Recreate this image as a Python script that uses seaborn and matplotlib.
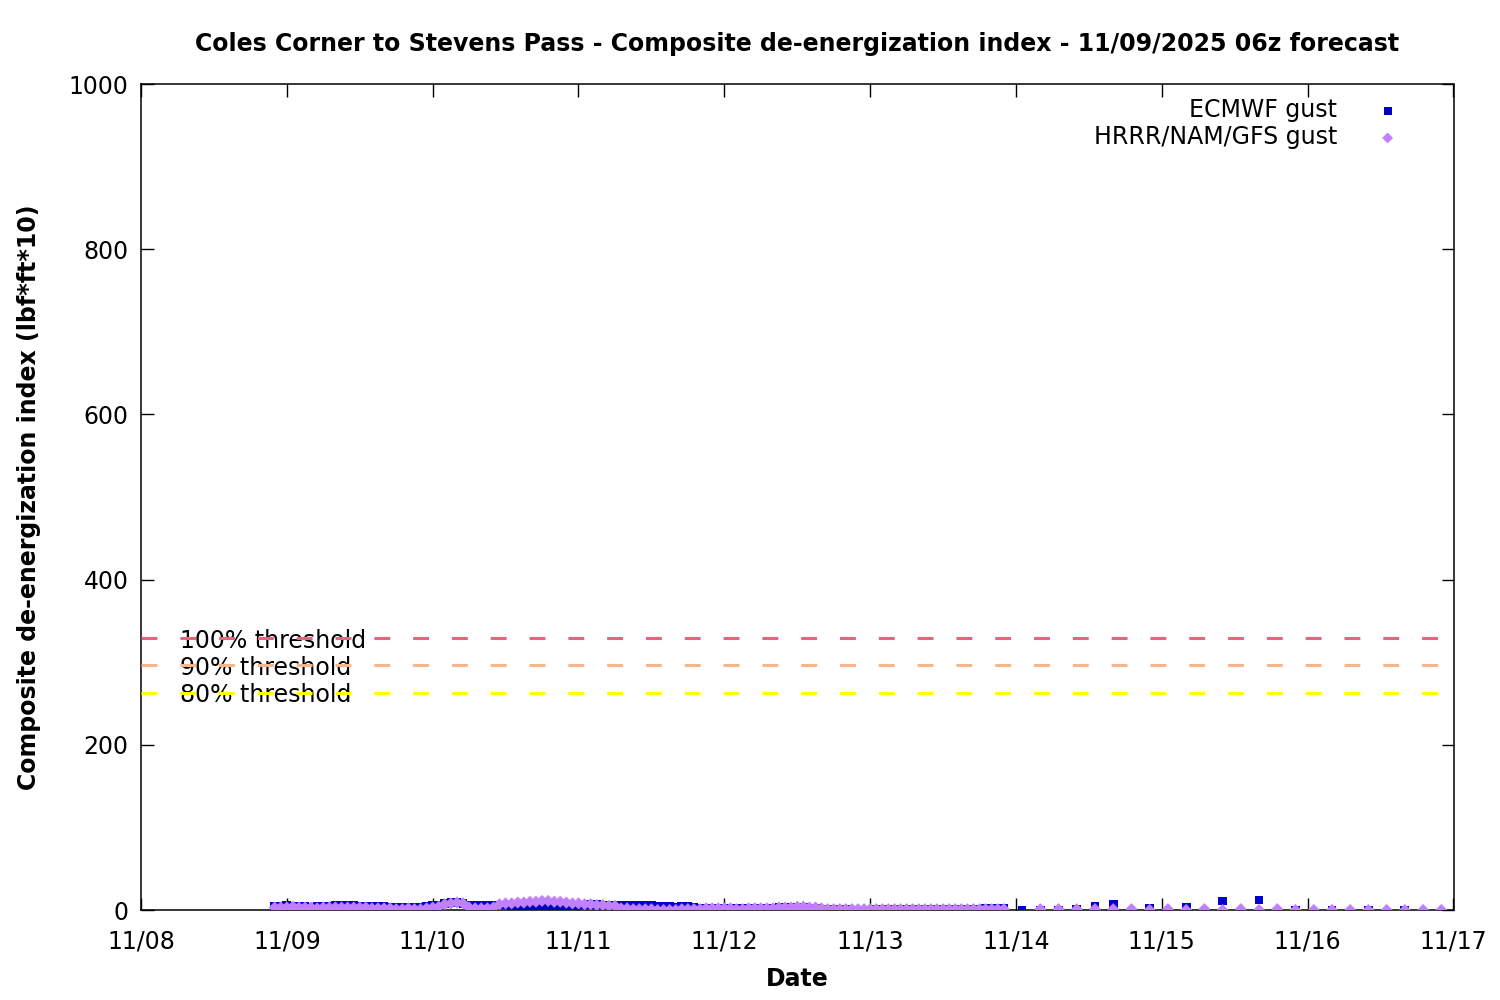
import numpy as np
import pandas as pd
import matplotlib
matplotlib.use("Agg")
import matplotlib.pyplot as plt
import matplotlib.dates as mdates
import seaborn as sns

# hourly part of the forecast (11/08 22:00 -> 11/13 22:00)
hourly_start = "2025-11-08 22:00"
ecmwf_hourly = [4, 4, 5, 4, 4, 4, 3, 4, 4, 4, 5, 5, 5,
                5, 4, 4, 4, 4, 4,
                3, 3, 3, 3, 3, 3, 4,
                5, 6,
                8, 9, 9, 8,
                6, 5, 5, 5, 6,
                6, 6, 5, 5, 5, 5, 4, 4, 4, 5, 5, 5, 5, 6,
                6, 7, 7, 6, 6, 6,
                5, 5, 5, 5, 5, 5,
                4, 4, 4, 3, 4, 4, 3,
                2, 2, 2, 2, 2, 2, 2, 2, 2, 2, 2, 2, 2, 3, 3, 3,
                3, 3, 2, 2, 1,
                1, 1, 1, 1, 0, 0, 0, 0, 1, 1, 1, 1, 1, 1, 1, 1, 1, 1, 1, 1,
                1, 1, 1, 1, 1, 1, 2, 2, 2, 2]
hrrr_hourly = [3, 3, 3, 4, 3, 3, 3, 2, 3, 3, 3, 3, 3,
               3, 3, 3, 2, 2, 2,
               2, 1, 1, 2, 1, 1, 2,
               3, 4,
               7, 8, 9, 8,
               3, 2, 2, 2, 3,
               7, 8, 8, 9, 9, 10, 10, 11, 11, 10, 10, 9, 8, 8,
               7, 7, 6, 6, 5, 5,
               2, 2, 1, 1, 1, 1,
               0, 0, 0, 0, 1, 1, 1,
               1, 2, 2, 2, 2, 2, 1, 1, 2, 2, 2, 2, 2, 3, 3, 3,
               4, 4, 3, 3, 2,
               1, 1, 1, 1, 1, 1, 1, 1, 1, 1, 1, 1, 1, 1, 1, 1, 1, 1, 1, 1,
               1, 1, 1, 1, 1, 1, 1, 1, 1, 1]

# longer range part
ecmwf_late_times = ["2025-11-14 01:00", "2025-11-14 04:00", "2025-11-14 07:00",
                    "2025-11-14 10:00", "2025-11-14 13:00", "2025-11-14 16:00",
                    "2025-11-14 22:00", "2025-11-15 04:00", "2025-11-15 10:00",
                    "2025-11-15 16:00", "2025-11-15 22:00", "2025-11-16 04:00",
                    "2025-11-16 10:00", "2025-11-16 16:00"]
ecmwf_late = [0, 0, 0, 1, 4, 7, 2, 3, 11, 12, 0, 0, 0, 0]
hrrr_late_start = "2025-11-14 04:00"
hrrr_late = [1, 1, 1, 1, 1, 1, 0, 1, 0, 1, 0, 1, 0, 1, 0, 0, 0, 0, 0, 0, 0, 0, 0]

threshold = 329
thresh_levels = [1.0, 0.9, 0.8]
thresh_labels = ["100% threshold", "90% threshold", "80% threshold"]
thresh_colors = ["#e3667f", "#f7b68a", "#ffff00"]

t_hourly = pd.date_range(hourly_start, periods=len(ecmwf_hourly), freq="h")
t_hrrr_late = pd.date_range(hrrr_late_start, periods=len(hrrr_late), freq="3h")

df_ec = pd.DataFrame({"time": list(t_hourly) + list(pd.to_datetime(ecmwf_late_times)),
                      "value": ecmwf_hourly + ecmwf_late})
df_hr = pd.DataFrame({"time": list(t_hourly) + list(t_hrrr_late),
                      "value": hrrr_hourly + hrrr_late})

sns.set_style("ticks")
plt.rcParams['font.family'] = ['DejaVu Sans']
plt.rcParams['text.color'] = 'black'
plt.rcParams['axes.labelcolor'] = 'black'

fig = plt.figure(figsize=(15, 10), dpi=100)
ax = fig.add_axes([0.094, 0.09, 0.875, 0.826])

for lev, lab, col in zip(thresh_levels, thresh_labels, thresh_colors):
    y = threshold * lev
    ax.axhline(y, color=col, lw=2.2, ls=(0, (5.2, 7.5)), zorder=3)
    ax.text(pd.Timestamp("2025-11-08 06:30"), y - 3, lab, fontsize=17, va="center",
            ha="left", color="black", zorder=2)

sns.scatterplot(data=df_ec, x="time", y="value", ax=ax, marker="s", s=40,
                color="#0000cc", edgecolor="none", label="ECMWF gust", zorder=4)
sns.scatterplot(data=df_hr, x="time", y="value", ax=ax, marker="D", s=38,
                color="#c080ff", edgecolor="none", label="HRRR/NAM/GFS gust", zorder=5)

ax.set_xlim(pd.Timestamp("2025-11-08"), pd.Timestamp("2025-11-17"))
ax.set_ylim(0, 1000)
ax.set_yticks(range(0, 1001, 200))
ax.xaxis.set_major_locator(mdates.DayLocator())
ax.xaxis.set_major_formatter(mdates.DateFormatter("%m/%d"))
ax.tick_params(direction="in", length=9, width=1, top=True, right=True,
               labelsize=17, colors="black")
ax.tick_params(axis="x", pad=14)
ax.tick_params(axis="y", pad=9)
for sp in ax.spines.values():
    sp.set_linewidth(1.1)
    sp.set_color("black")

ax.set_xlabel("Date", fontsize=17, fontweight="bold", labelpad=10)
ax.set_ylabel("Composite de-energization index (lbf*ft*10)", fontsize=17,
              fontweight="bold", labelpad=20)
ax.set_title("Coles Corner to Stevens Pass - Composite de-energization index - 11/09/2025 06z forecast",
             fontsize=17, fontweight="bold", pad=24)

leg = ax.legend(loc="upper right", bbox_to_anchor=(0.966, 0.9915), frameon=False,
                markerfirst=False, fontsize=17, handletextpad=1.53, borderaxespad=0,
                borderpad=0.3, labelspacing=0.13, markerscale=0.9, handlelength=1.2)

fig.savefig("out.png", dpi=100)
